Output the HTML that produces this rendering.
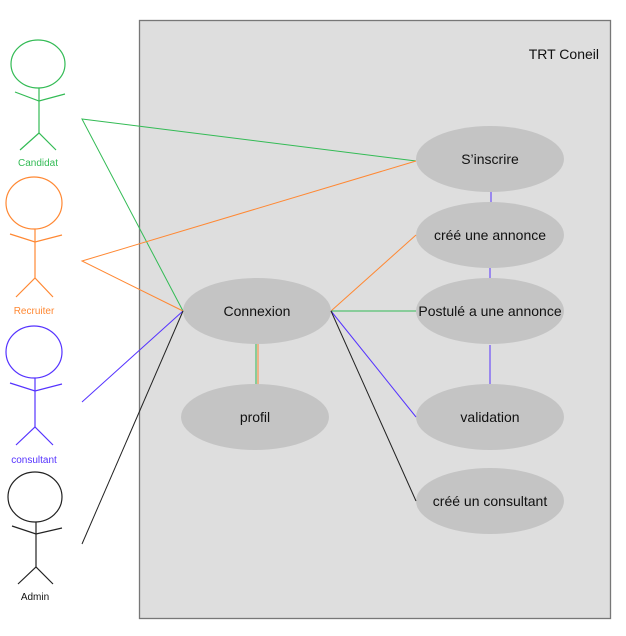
<!DOCTYPE html>
<html><head><meta charset="utf-8"><style>body{margin:0;background:#fff}svg{display:block}</style></head><body>
<svg width="626" height="636" xmlns="http://www.w3.org/2000/svg" font-family="'Liberation Sans', 'DejaVu Sans', sans-serif">
<rect x="139.5" y="20.5" width="471" height="598" fill="#dedede" stroke="#777" stroke-width="1.3"/>
<text x="599" y="59" text-anchor="end" font-size="14" fill="#111">TRT Coneil</text>
<g fill="none" stroke-width="1">
<line x1="491" y1="192" x2="491" y2="202" stroke="#5533ff"/>
<line x1="490" y1="268" x2="490" y2="279" stroke="#5533ff"/>
<line x1="490" y1="345" x2="490" y2="385" stroke="#5533ff"/>
<line x1="256" y1="344" x2="256" y2="385" stroke="#33bb55"/>
<line x1="258" y1="344" x2="258" y2="385" stroke="#ff8833"/>
</g>
<g fill="#c4c4c4">
<ellipse cx="490" cy="159" rx="74" ry="33"/>
<ellipse cx="490" cy="235" rx="74" ry="33"/>
<ellipse cx="490" cy="311" rx="74" ry="33"/>
<ellipse cx="490" cy="417" rx="74" ry="33"/>
<ellipse cx="490" cy="501" rx="74" ry="33"/>
<ellipse cx="257" cy="311" rx="74" ry="33"/>
<ellipse cx="255" cy="417" rx="74" ry="33"/>
</g>
<g fill="none" stroke-width="1">
<polyline points="416,161 82,119 183,311" stroke="#33bb55"/>
<polyline points="416,161 82,261 183,311" stroke="#ff8833"/>
<line x1="82" y1="402" x2="183" y2="311" stroke="#5533ff"/>
<line x1="82" y1="544" x2="183" y2="311" stroke="#222"/>
<line x1="331" y1="311" x2="416" y2="235" stroke="#ff8833"/>
<line x1="331" y1="311" x2="416" y2="311" stroke="#33bb55"/>
<line x1="331" y1="311" x2="416" y2="417" stroke="#5533ff"/>
<line x1="331" y1="311" x2="416" y2="501" stroke="#222"/>
</g>
<g font-size="14" fill="#111" text-anchor="middle">
<text x="490" y="164">S’inscrire</text>
<text x="490" y="240">créé une annonce</text>
<text x="490" y="316">Postulé a une annonce</text>
<text x="490" y="422">validation</text>
<text x="490" y="506">créé un consultant</text>
<text x="257" y="316">Connexion</text>
<text x="255" y="422">profil</text>
</g>
<g fill="none" stroke-width="1.2">
<g stroke="#33bb55"><ellipse cx="38" cy="64" rx="27" ry="24"/><polyline points="15,92 39,101 65,94"/><line x1="39" y1="88" x2="39" y2="133"/><polyline points="20,150 39,133 56,150"/></g>
<g stroke="#ff8833"><ellipse cx="34" cy="203" rx="28" ry="26"/><polyline points="10,234 35,242 62,235"/><line x1="35" y1="229" x2="35" y2="278"/><polyline points="16,297 35,278 53,297"/></g>
<g stroke="#5533ff"><ellipse cx="34" cy="352" rx="28" ry="26"/><polyline points="10,383 35,391 62,384"/><line x1="35" y1="378" x2="35" y2="427"/><polyline points="16,445 35,427 53,445"/></g>
<g stroke="#222"><ellipse cx="35" cy="497" rx="27" ry="25"/><polyline points="12,526 36,534 62,528"/><line x1="36" y1="522" x2="36" y2="567"/><polyline points="18,584 36,567 53,584"/></g>
</g>
<g font-size="10" text-anchor="middle">
<text x="38" y="166" fill="#33bb55">Candidat</text>
<text x="34" y="314" fill="#ff8833">Recruiter</text>
<text x="34" y="463" fill="#5533ff">consultant</text>
<text x="35" y="600" fill="#111">Admin</text>
</g>
</svg>
</body></html>
